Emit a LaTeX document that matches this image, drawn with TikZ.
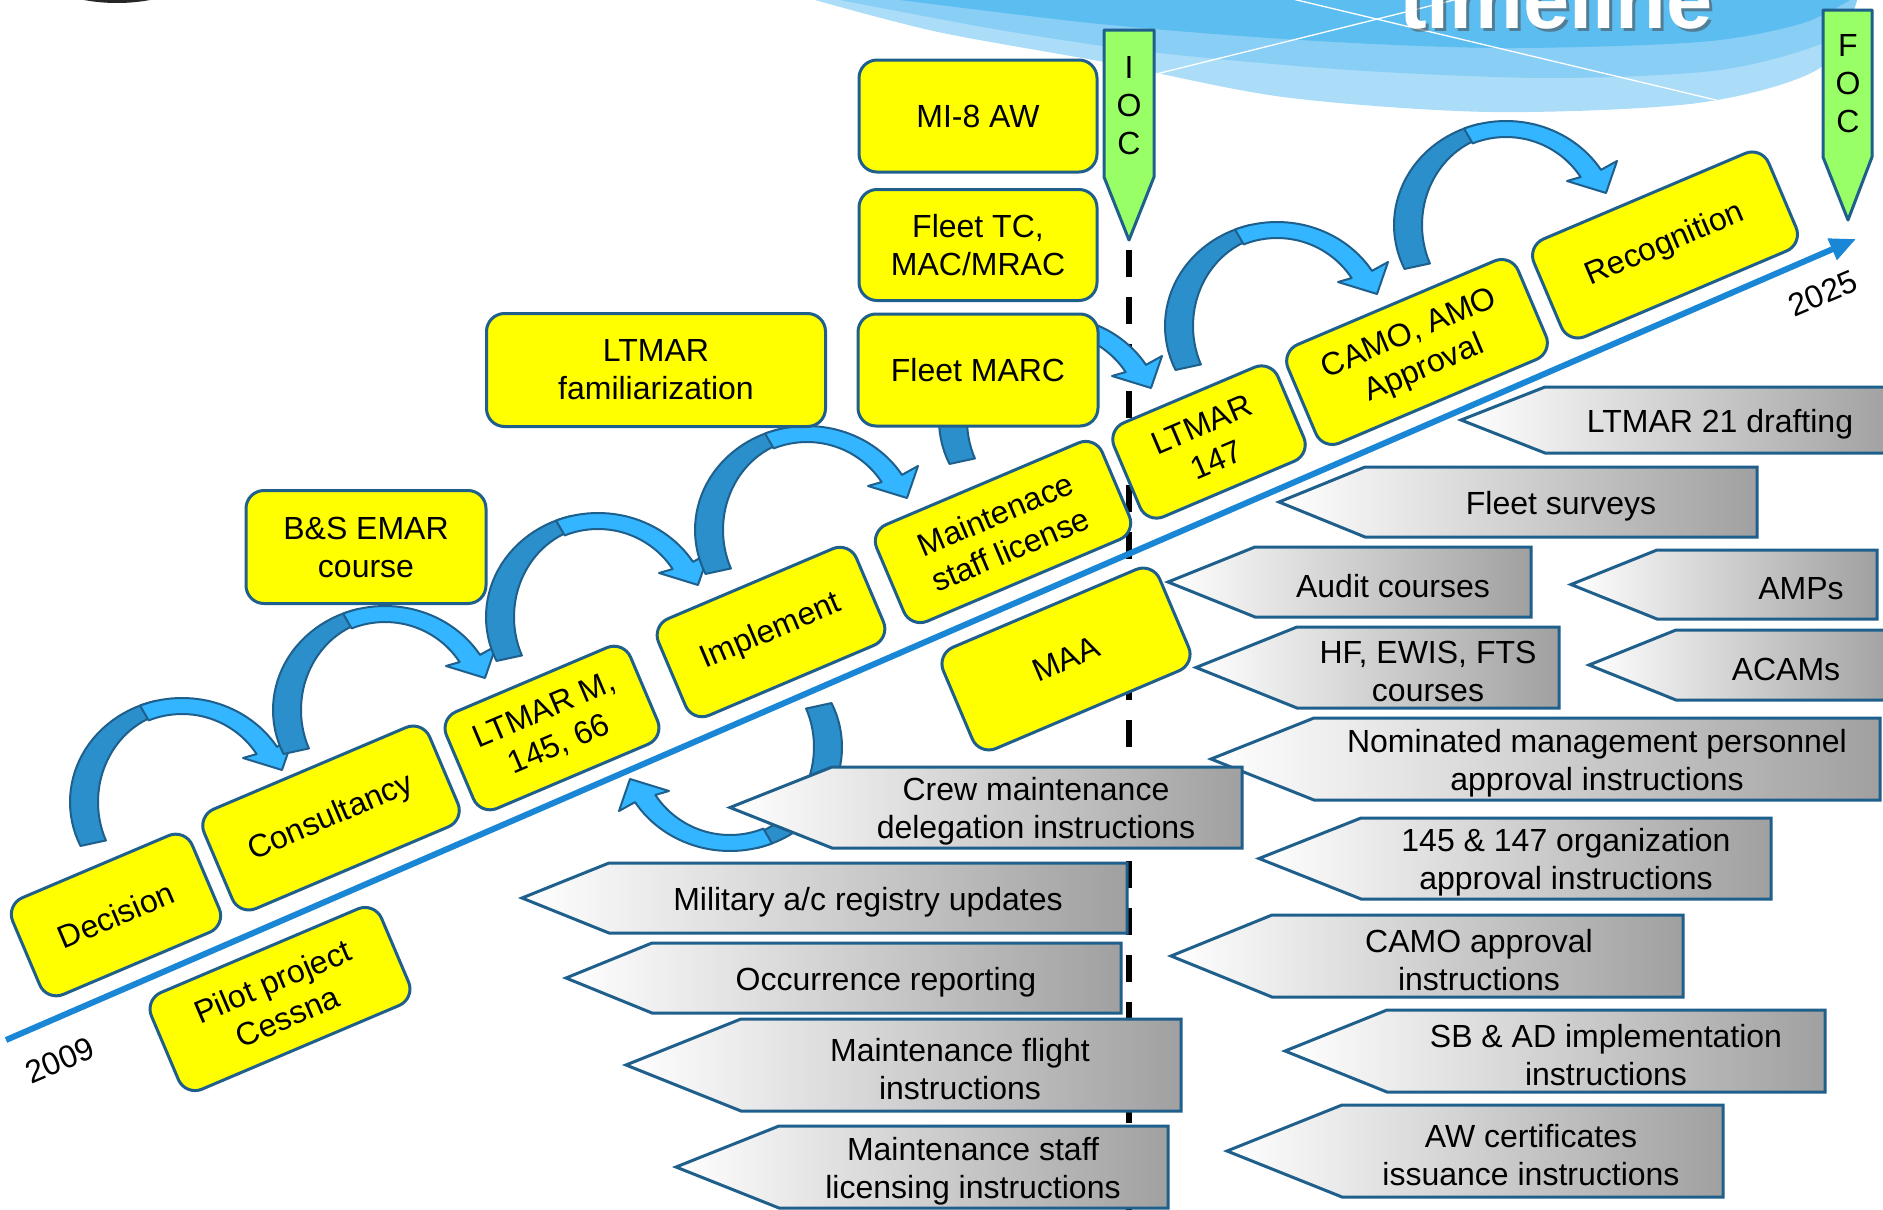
\documentclass[tikz,border=0pt]{standalone}
\usepackage{fontspec}
\setmainfont{Liberation Sans}
\usetikzlibrary{arrows.meta}
\definecolor{bord}{HTML}{1F5F8C}
\definecolor{ylw}{HTML}{FFFF00}
\definecolor{grn}{HTML}{99FF66}
\definecolor{adark}{HTML}{2A8FCB}
\definecolor{alight}{HTML}{33B6FF}
\definecolor{axisblue}{HTML}{1A87D6}
\definecolor{pgray}{HTML}{A0A0A0}
\definecolor{wave1}{HTML}{ABDDF8}
\definecolor{wave2}{HTML}{88CEF5}
\definecolor{wave3}{HTML}{5BBDF0}
\newcommand{\tx}{\fontsize{32}{38}\selectfont}
\newcommand{\ttl}{\fontsize{83}{90}\selectfont\bfseries}
\newcommand{\pentshape}[8]{%
  \path[pent] (#2,{(#5+#6)/2}) -- (#3,#5) -- (#4,#5) -- (#4,#6) -- (#3,#6) -- cycle;
  \node[ptext] (#1) at (#7,{(#5+#6)/2}) {#8};}
\tikzset{
  ybox/.style={draw=bord, line width=3pt, fill=ylw, rounded corners=18pt, align=center, font=\tx, inner sep=0pt},
  rbox/.style={ybox, rotate=23},
  ftext/.style={align=center, font=\tx, inner sep=0pt},
  ptext/.style={ftext, yshift=-4pt},
  pent/.style={draw=bord, line width=3pt, left color=white, right color=pgray},
  gflag/.style={draw=bord, line width=3pt, fill=grn, line join=round},
  arr/.style={draw=bord, line width=2pt, line join=round},
  curvarr/.pic={
    \path[arr, fill=adark] plot[domain=155:256,samples=30] ({105+112*cos(\x)},{-50+104*sin(\x)})
      -- plot[domain=256:155,samples=30] ({105+84*cos(\x)},{-50+91*sin(\x)}) -- cycle;
    \path[arr, fill=alight] plot[domain=248:328,samples=30] ({105+112*cos(\x)},{-50+104*sin(\x)})
      -- (216,-114) -- (205,-82) -- (166,-94)
      -- plot[domain=327:248,samples=30] ({105+89*cos(\x)},{-50+88*sin(\x)}) -- cycle;
  }
}
\begin{document}
\begin{tikzpicture}[x=1pt,y=-1pt]
\useasboundingbox (0,0) rectangle (1883,1210);
\clip (0,0) rectangle (1883,1210);
\fill[white] (0,0) rectangle (1883,1210);
% dark disc at top left
\fill[black!85] (117,-180) circle[radius=183pt];
% wave
\begin{scope}
  \clip (805,-10) -- (815,0) -- plot[smooth] coordinates {(815,0) (938,32) (1104,62) (1283,97) (1491,112) (1698,103) (1820,68) (1857,0)} -- (1865,-10) -- cycle;
  \fill[wave1] (800,-10) rectangle (1883,130);
  \fill[wave2] (800,-10) -- plot[smooth] coordinates {(840,0) (1000,30) (1150,52) (1350,70) (1550,78) (1720,70) (1830,40) (1860,0)} -- (1883,-10) -- cycle;
  \fill[wave3] (800,-10) -- plot[smooth] coordinates {(900,0) (1100,24) (1300,40) (1500,48) (1700,42) (1800,24) (1850,0)} -- (1883,-10) -- cycle;
  \draw[white, line width=1.3pt] (1100,88) -- (1470,-4);
  \draw[white, line width=1.3pt] (1280,-4) -- (1720,101);
\end{scope}
\node[font=\ttl, text=black!70, opacity=0.55, anchor=base] (titleshadow) at (1559,31) {timeline};
\node[font=\ttl, text=white, anchor=base] (title) at (1556,28) {timeline};
% dashed IOC line
\coordinate (d0) at (1129,250);
\coordinate (d1) at (1129,1215);
\draw[black, line width=6pt, dash pattern=on 27pt off 20pt] (d0) -- (d1);
% time axis
\coordinate (t0) at (6,1040);
\coordinate (t1) at (1856,239);
\draw[axisblue, line width=6pt, -{Triangle[length=26pt,width=22pt]}] (t0) -- (t1);
% curved arrows
\pic (a1) at (77,852) {curvarr};
\pic (a2) at (280,760) {curvarr};
\pic (a3) at (493,667) {curvarr};
\pic (a4) at (702,580) {curvarr};
\pic (a5) at (946,470) {curvarr};
\pic (a6) at (1172,376) {curvarr};
\pic (a7) at (1401,275) {curvarr};
\pic[rotate=180] (a8) at (835,697) {curvarr};
% upright boxes
\node[ybox, minimum width=238pt, minimum height=112pt] (mi8) at (978,116) {MI-8 AW};
\node[ybox, minimum width=238pt, minimum height=111pt] (fleettc) at (978,245) {Fleet TC,\\MAC/MRAC};
\node[ybox, minimum width=240pt, minimum height=112pt] (fleetmarc) at (978,370) {Fleet MARC};
\node[ybox, minimum width=339pt, minimum height=113pt] (ltmarfam) at (656,370) {LTMAR\\familiarization};
\node[ybox, minimum width=240pt, minimum height=113pt] (bsemar) at (366,547) {B\&S EMAR\\course};
% rotated boxes
\node[rbox, minimum width=195pt, minimum height=105pt] (decision) at (116,915) {Decision};
\node[rbox, minimum width=245pt, minimum height=108pt] (consult) at (331,818) {Consultancy};
\node[rbox, minimum width=250pt, minimum height=105pt] (pilot) at (280,999) {Pilot project\\Cessna};
\node[rbox, minimum width=200pt, minimum height=105pt] (ltmarm) at (552,728) {LTMAR M,\\145, 66};
\node[rbox, minimum width=215pt, minimum height=105pt] (implement) at (771,632) {Implement};
\node[rbox, minimum width=245pt, minimum height=105pt] (maint) at (1003,532) {Maintenace\\staff license};
\node[rbox, minimum width=235pt, minimum height=110pt] (maa) at (1066,659) {MAA};
\node[rbox, minimum width=178pt, minimum height=102pt] (ltmar147) at (1209,442) {LTMAR\\147};
\node[rbox, minimum width=250pt, minimum height=107pt] (camo) at (1417,352) {CAMO, AMO\\Approval};
\node[rbox, minimum width=255pt, minimum height=106pt] (recog) at (1665,245) {Recognition};
% pentagons: name, tip x, shoulder x, right x, top y, bottom y, text x, text
\pentshape{ltmar21}{1461}{1545}{1895}{387}{453}{1720}{LTMAR 21 drafting}
\pentshape{fleetsurv}{1279}{1365}{1757}{467}{537}{1561}{Fleet surveys}
\pentshape{audit}{1168}{1255}{1531}{547}{617}{1393}{Audit courses}
\pentshape{amps}{1571}{1657}{1877}{550}{619}{1801}{AMPs}
\pentshape{hfewis}{1196}{1297}{1559}{627}{708}{1428}{HF, EWIS, FTS\\courses}
\pentshape{acams}{1589}{1676}{1895}{630}{700}{1786}{ACAMs}
\pentshape{nominated}{1211}{1314}{1880}{718}{800}{1597}{Nominated management personnel\\approval instructions}
\pentshape{crew}{730}{832}{1242}{767}{848}{1036}{Crew maintenance\\delegation instructions}
\pentshape{military}{522}{609}{1127}{863}{933}{868}{Military a/c registry updates}
\pentshape{occurrence}{566}{652}{1121}{943}{1013}{886}{Occurrence reporting}
\pentshape{mflight}{626}{741}{1181}{1019}{1111}{960}{Maintenance flight\\instructions}
\pentshape{mstaff}{676}{779}{1168}{1126}{1208}{973}{Maintenance staff\\licensing instructions}
\pentshape{orgappr}{1259}{1361}{1771}{818}{899}{1566}{145 \& 147 organization\\approval instructions}
\pentshape{camoinstr}{1171}{1272}{1683}{915}{997}{1479}{CAMO approval\\instructions}
\pentshape{sbad}{1285}{1387}{1825}{1010}{1092}{1606}{SB \& AD implementation\\instructions}
\pentshape{awcert}{1227}{1342}{1723}{1105}{1197}{1531}{AW certificates\\issuance instructions}
% IOC / FOC flags
\path[gflag] (1104,30) -- (1154,30) -- (1154,177) -- (1129,240) -- (1104,177) -- cycle;
\node[ftext] (ioc) at (1129,106) {I\\O\\C};
\path[gflag] (1823,10) -- (1872,10) -- (1872,157) -- (1848,220) -- (1823,157) -- cycle;
\node[ftext] (foc) at (1848,84) {F\\O\\C};
% years
\node[font=\tx, rotate=23] (y2009) at (60,1060) {2009};
\node[font=\tx, rotate=23] (y2025) at (1823,293) {2025};
\end{tikzpicture}
\end{document}
